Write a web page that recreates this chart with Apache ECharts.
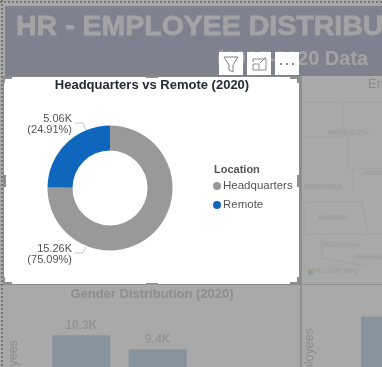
<!DOCTYPE html>
<html>
<head>
<meta charset="utf-8">
<style>
  html, body { margin: 0; padding: 0; background: #a9a9a9; }
  #chart { width: 382px; height: 367px; }
</style>
<script src="https://cdn.jsdelivr.net/npm/echarts@6/dist/echarts.min.js"></script>
</head>
<body>
<div id="chart"></div>
<script>
// donut
const locations = ['Headquarters', 'Remote'];
const locationValues = [15260, 5060];
const locationLabels = ['15.26K\n(75.09%)', '5.06K\n(24.91%)'];
const locationColors = ['#999999', '#0f66bd'];

// dimmed visuals behind the focused card
const genders = ['Male', 'Female'];
const genderValues = [10.3, 9.4];
const genderLabels = ['10.3K', '9.4K'];
const rightCategories = ['A'];
const rightValues = [11.9];
const mapLabels = [
  ['MINNESOTA', 348, 133], ['IOWA', 373, 173], ['NEBRASKA', 323, 187],
  ['KANSAS', 333, 218], ['OKLAHOMA', 340, 245], ['ARKANSAS', 373, 257]
];
const mapLines = [
  [[304, 102], [382, 102]], [[343, 102], [343, 133]], [[304, 137], [348, 137]],
  [[348, 137], [348, 168]], [[348, 168], [382, 168]], [[353, 168], [353, 192]],
  [[304, 202], [362, 202]], [[304, 234], [382, 234]], [[304, 202], [304, 234]],
  [[362, 202], [368, 234]], [[322, 238], [322, 258]], [[322, 258], [365, 266]]
];

const chart = echarts.init(document.getElementById('chart'));
const font = '"Liberation Sans", Arial, sans-serif';

function box(x, y, w, h, fill, z) {
  return { type: 'rect', shape: { x, y, width: w, height: h }, style: { fill }, z, silent: true };
}
function line(pts, stroke, z, lineWidth = 1) {
  return { type: 'polyline', shape: { points: pts }, style: { stroke, fill: null, lineWidth }, z, silent: true };
}

const graphics = [
  // header band
  box(5, 6, 377, 70, '#80818f', 0),
  // panel divider lines
  box(300, 76, 2, 291, '#8f8f8f', 0),
  box(0, 284, 382, 1, '#8f8f8f', 0),
  { type: 'text', style: { x: 16, y: 13, text: 'HR - EMPLOYEE DISTRIBUTION', font: 'bold 28.5px ' + font, fill: '#a3a3a6', stroke: '#a3a3a6', lineWidth: 0.8 }, z: 1, silent: true },
  { type: 'text', style: { x: 217, y: 49, text: '(2018-2020 Data', font: 'bold 20px ' + font, fill: '#a3a3a6' }, z: 1, silent: true },
  { type: 'text', style: { x: 368, y: 78, text: 'Employees', font: '13px ' + font, fill: '#8c8c8c' }, z: 1, silent: true },
  { type: 'text', style: { x: 313, y: 268, text: 'Microsoft Bing', font: '7px ' + font, fill: '#9a9a9a' }, z: 1, silent: true },
  box(308, 269, 3, 3, '#a39a8c', 1), box(311, 269, 3, 3, '#9aa38c', 1),
  box(308, 272, 3, 3, '#8c9aa3', 1), box(311, 272, 3, 3, '#a3a08c', 1),

  // focused card
  box(3, 76, 297, 209, '#8a8a8a', 3),
  box(4, 77, 295, 207, '#ffffff', 3),
  // corner and side handles
  line([[4, 83], [4, 78], [12, 78]], '#8f8f8f', 4, 2),
  line([[290, 78], [298, 78], [298, 83]], '#8f8f8f', 4, 2),
  line([[4, 277], [4, 283], [12, 283]], '#8f8f8f', 4, 2),
  line([[290, 283], [298, 283], [298, 277]], '#8f8f8f', 4, 2),
  box(146, 76, 12, 2, '#8f8f8f', 4), box(146, 283, 12, 2, '#8f8f8f', 4),
  box(4, 175, 2, 12, '#8f8f8f', 4), box(297, 175, 2, 12, '#8f8f8f', 4),

  // visual header icons
  box(219, 52, 24, 23, '#ffffff', 5),
  box(247, 52, 24, 23, '#ffffff', 5),
  box(275, 52, 24, 23, '#ffffff', 5),
  line([[224, 57], [238, 57], [233, 65], [233, 72], [229, 70], [229, 65], [224, 57]], '#808080', 6),
  line([[253, 62], [253, 59], [266, 59], [266, 70], [253, 70], [253, 64], [259, 64], [259, 70]], '#8a8a8a', 6),
  line([[260, 63], [266, 57]], '#8a8a8a', 6),
  { type: 'circle', shape: { cx: 281, cy: 64, r: 1 }, style: { fill: '#666666' }, z: 6, silent: true },
  { type: 'circle', shape: { cx: 287, cy: 64, r: 1 }, style: { fill: '#666666' }, z: 6, silent: true },
  { type: 'circle', shape: { cx: 293, cy: 64, r: 1 }, style: { fill: '#666666' }, z: 6, silent: true },

  { type: 'text', style: { x: 214, y: 164, text: 'Location', font: 'bold 11px ' + font, fill: '#555555' }, z: 6, silent: true }
];

// dotted report border
for (let x = 0; x < 382; x += 4) graphics.push(box(x, 1, 2, 2, '#777777', 7));
for (let y = 0; y < 367; y += 4) graphics.push(box(1, y, 2, 2, '#777777', 7));

mapLines.forEach(pts => graphics.push(line(pts, '#a0a0a0', 1)));
mapLabels.forEach(([text, x, y]) => graphics.push({
  type: 'text', style: { x, y, text, font: '7px ' + font, fill: '#989898', align: 'center', verticalAlign: 'middle' }, z: 1, silent: true
}));

chart.setOption({
  animation: false,
  backgroundColor: '#a9a9a9',
  textStyle: { fontFamily: font },
  title: [
    { text: 'Headquarters vs Remote (2020)', left: 152, top: 79, padding: 0, textAlign: 'center', z: 8,
      textStyle: { fontSize: 13, fontWeight: 'bold', color: '#252a33' } },
    { text: 'Gender Distribution (2020)', left: 152, top: 288, padding: 0, textAlign: 'center',
      textStyle: { fontSize: 13, fontWeight: 'bold', color: '#8e8e8e' } }
  ],
  legend: {
    data: locations, orient: 'vertical', left: 213, top: 180, padding: 0, z: 8,
    icon: 'circle', itemWidth: 8, itemHeight: 8, itemGap: 7,
    textStyle: { fontSize: 11.5, color: '#555555', padding: [0, 0, 0, -3] }
  },
  grid: [
    { left: 43, top: 309, width: 153, height: 186, outerBoundsMode: 'none' },
    { left: 342, top: 285, width: 78, height: 210, outerBoundsMode: 'none' }
  ],
  xAxis: [
    { type: 'category', gridIndex: 0, data: genders, axisLine: { show: false }, axisTick: { show: false }, axisLabel: { show: false } },
    { type: 'category', gridIndex: 1, data: rightCategories, axisLine: { show: false }, axisTick: { show: false }, axisLabel: { show: false } }
  ],
  yAxis: [
    { type: 'value', gridIndex: 0, min: 0, max: 12, axisLabel: { show: false }, splitLine: { show: false },
      name: 'Number of Employees', nameLocation: 'middle', nameGap: 23, nameTextStyle: { fontSize: 12.5, color: '#8e8e8e' } },
    { type: 'value', gridIndex: 1, min: 0, max: 14, axisLabel: { show: false }, splitLine: { show: false },
      name: 'Number of Employees', nameLocation: 'middle', nameGap: 26, nameTextStyle: { fontSize: 12.5, color: '#8e8e8e' } }
  ],
  series: [
    {
      type: 'bar', xAxisIndex: 0, yAxisIndex: 0, barWidth: 58, data: genderValues,
      itemStyle: { color: '#87949e' }, silent: true,
      label: { show: true, position: 'top', distance: 4, fontSize: 12, fontWeight: 'bold', color: '#959595',
        formatter: p => genderLabels[p.dataIndex] }
    },
    {
      type: 'bar', xAxisIndex: 1, yAxisIndex: 1, barWidth: 40, data: rightValues,
      itemStyle: { color: '#87949e' }, silent: true
    },
    {
      type: 'pie', name: 'Location', z: 8, center: [110, 188], radius: [37.5, 62.5],
      startAngle: 90, clockwise: true, silent: true,
      data: locations.map((name, i) => ({
        name, value: locationValues[i], itemStyle: { color: locationColors[i] }
      })),
      label: {
        show: true, position: 'outside', fontSize: 11, lineHeight: 11, color: '#555555', align: 'right',
        overflow: 'none', formatter: p => locationLabels[p.dataIndex]
      },
      labelLine: { show: true, lineStyle: { color: '#c8c8c8', width: 1 } },
      labelLayout: p => p.dataIndex === 0
        ? { x: 72, y: 254, align: 'right', verticalAlign: 'middle', width: 60,
            labelLinePoints: [[75, 253], [83, 253], [86, 247]] }
        : { x: 72, y: 124, align: 'right', verticalAlign: 'middle', width: 60,
            labelLinePoints: [[75, 123], [83, 123], [86, 130]] }
    }
  ],
  graphic: graphics
});
</script>
</body>
</html>
